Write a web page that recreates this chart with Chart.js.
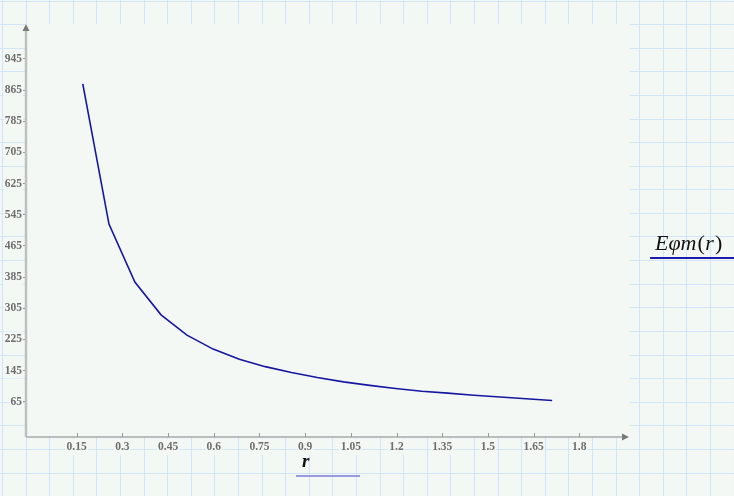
<!DOCTYPE html>
<html>
<head>
<meta charset="utf-8">
<script src="https://cdn.jsdelivr.net/npm/chart.js@4/dist/chart.umd.min.js"></script>
<style>
  html, body { margin: 0; padding: 0; background: #f4f8f5; }
  #wrap { width: 734px; height: 496px; }
</style>
</head>
<body>
<div id="wrap"><canvas id="chart" width="734" height="496"></canvas></div>
<script>
// ---- data ----
const rValues = [0.170, 0.256, 0.341, 0.427, 0.512, 0.598, 0.684, 0.769, 0.855, 0.940,
                 1.026, 1.112, 1.197, 1.283, 1.368, 1.454, 1.540, 1.625, 1.711];
const eValues = [881, 521, 372, 288, 236, 200, 174, 155, 140, 127,
                 116, 107, 99, 92, 87, 81.5, 77, 72.5, 68];
const xTicks = [0.15, 0.3, 0.45, 0.6, 0.75, 0.9, 1.05, 1.2, 1.35, 1.5, 1.65, 1.8];
const yTicks = [65, 145, 225, 305, 385, 465, 545, 625, 705, 785, 865, 945];

const seriesLabel = 'Eφm(r)';
// pieces of the trace name: [text, italic?]
const seriesLabelParts = [['Eφm', true], ['(', false], ['r', true], [')', false]];
const xLabel = 'r';

const PAGE_BG = '#f4f8f5';
const GRID_COL = '#d3e6f7';
const CELL = 23.6;
const SERIF = '"Liberation Serif", "DejaVu Serif", serif';

// background: worksheet grid with the plot region blanked out
const sheetPlugin = {
    id: 'sheet',
    beforeDraw(chart) {
        const ctx = chart.ctx;
        const area = chart.chartArea;
        ctx.save();
        ctx.fillStyle = PAGE_BG;
        ctx.fillRect(0, 0, chart.width, chart.height);
        ctx.strokeStyle = GRID_COL;
        ctx.lineWidth = 1.2;
        for (let x = 2; x < chart.width; x += CELL) {
            ctx.beginPath();
            ctx.moveTo(Math.round(x) + 0.5, 0);
            ctx.lineTo(Math.round(x) + 0.5, chart.height);
            ctx.stroke();
        }
        for (let y = 0.5; y < chart.height; y += CELL) {
            ctx.beginPath();
            ctx.moveTo(0, Math.round(y) + 0.5);
            ctx.lineTo(chart.width, Math.round(y) + 0.5);
            ctx.stroke();
        }
        // plot region
        ctx.fillStyle = PAGE_BG;
        ctx.fillRect(area.left, area.top - 1, area.right + 2 - area.left, area.bottom + 1 - area.top);
        ctx.restore();
    },
    afterDraw(chart) {
        const ctx = chart.ctx;
        const area = chart.chartArea;
        const xs = chart.scales.x;
        ctx.save();

        // x axis
        ctx.strokeStyle = '#a9abab';
        ctx.lineWidth = 1.5;
        ctx.beginPath();
        ctx.moveTo(area.left, area.bottom);
        ctx.lineTo(area.right - 4, area.bottom);
        ctx.stroke();
        ctx.fillStyle = '#7a7a7a';
        ctx.beginPath();
        ctx.moveTo(area.right + 1, area.bottom);
        ctx.lineTo(area.right - 6, area.bottom - 3.5);
        ctx.lineTo(area.right - 6, area.bottom + 3.5);
        ctx.closePath();
        ctx.fill();

        // x tick marks (drawn upward, as in the original)
        ctx.strokeStyle = '#999';
        ctx.lineWidth = 1;
        xTicks.forEach(v => {
            const px = Math.round(xs.getPixelForValue(v)) + 0.5;
            ctx.beginPath();
            ctx.moveTo(px, area.bottom - 4);
            ctx.lineTo(px, area.bottom);
            ctx.stroke();
        });

        // y axis
        ctx.strokeStyle = '#bcc0c1';
        ctx.lineWidth = 2.5;
        ctx.beginPath();
        ctx.moveTo(area.left, area.top + 4);
        ctx.lineTo(area.left, area.bottom);
        ctx.stroke();
        ctx.fillStyle = '#7a7a7a';
        ctx.beginPath();
        ctx.moveTo(area.left, area.top - 1);
        ctx.lineTo(area.left - 3.5, area.top + 6);
        ctx.lineTo(area.left + 3.5, area.top + 6);
        ctx.closePath();
        ctx.fill();

        // axis variable name
        ctx.fillStyle = '#111';
        ctx.font = 'italic bold 19px ' + SERIF;
        ctx.textAlign = 'left';
        ctx.textBaseline = 'alphabetic';
        ctx.fillText(xLabel, 302, 467);
        ctx.strokeStyle = '#9a9ade';
        ctx.lineWidth = 2;
        ctx.beginPath();
        ctx.moveTo(296, 476);
        ctx.lineTo(360, 476);
        ctx.stroke();

        // trace name, math style
        ctx.fillStyle = '#111';
        let tx = 655;
        seriesLabelParts.forEach(([txt, it]) => {
            ctx.font = (it ? 'italic ' : '') + '22px ' + SERIF;
            ctx.fillText(txt, tx, 250);
            tx += ctx.measureText(txt).width + (it ? 1 : 0.5);
        });
        ctx.strokeStyle = '#1b1bb0';
        ctx.lineWidth = 2;
        ctx.beginPath();
        ctx.moveTo(650, 258);
        ctx.lineTo(734, 258);
        ctx.stroke();

        ctx.restore();
    }
};

const points = rValues.map((r, i) => ({ x: r, y: eValues[i] }));

new Chart(document.getElementById('chart'), {
    type: 'scatter',
    data: {
        datasets: [{
            label: seriesLabel,
            data: points,
            showLine: true,
            borderColor: '#1616a0',
            borderWidth: 1.6,
            pointRadius: 0,
            tension: 0
        }]
    },
    options: {
        responsive: false,
        animation: false,
        devicePixelRatio: 1,
        layout: { padding: { top: 25, right: 106, left: 0, bottom: 0 } },
        plugins: { legend: { display: false }, tooltip: { enabled: false } },
        scales: {
            x: {
                type: 'linear',
                min: -0.0164,
                max: 1.96,
                afterFit: s => { s.height = 59; },
                afterBuildTicks: s => { s.ticks = xTicks.map(v => ({ value: v })); },
                grid: { display: false, drawTicks: false },
                border: { display: false },
                ticks: {
                    autoSkip: false,
                    maxRotation: 0,
                    padding: 3,
                    color: '#6e6e6e',
                    font: { family: SERIF, size: 11.5, weight: 'bold' },
                    showLabelBackdrop: true,
                    backdropColor: PAGE_BG,
                    backdropPadding: 1,
                    callback: v => String(v)
                }
            },
            y: {
                type: 'linear',
                min: -25.6,
                max: 1032,
                afterFit: s => { s.width = 26; },
                afterBuildTicks: s => { s.ticks = yTicks.map(v => ({ value: v })); },
                grid: { drawOnChartArea: false, tickLength: 4, color: '#999', lineWidth: 1 },
                border: { display: false },
                ticks: {
                    autoSkip: false,
                    padding: 0,
                    color: '#6e6e6e',
                    font: { family: SERIF, size: 11.5, weight: 'bold' },
                    showLabelBackdrop: true,
                    backdropColor: PAGE_BG,
                    backdropPadding: 1,
                    callback: v => String(v)
                }
            }
        }
    },
    plugins: [sheetPlugin]
});
</script>
</body>
</html>
